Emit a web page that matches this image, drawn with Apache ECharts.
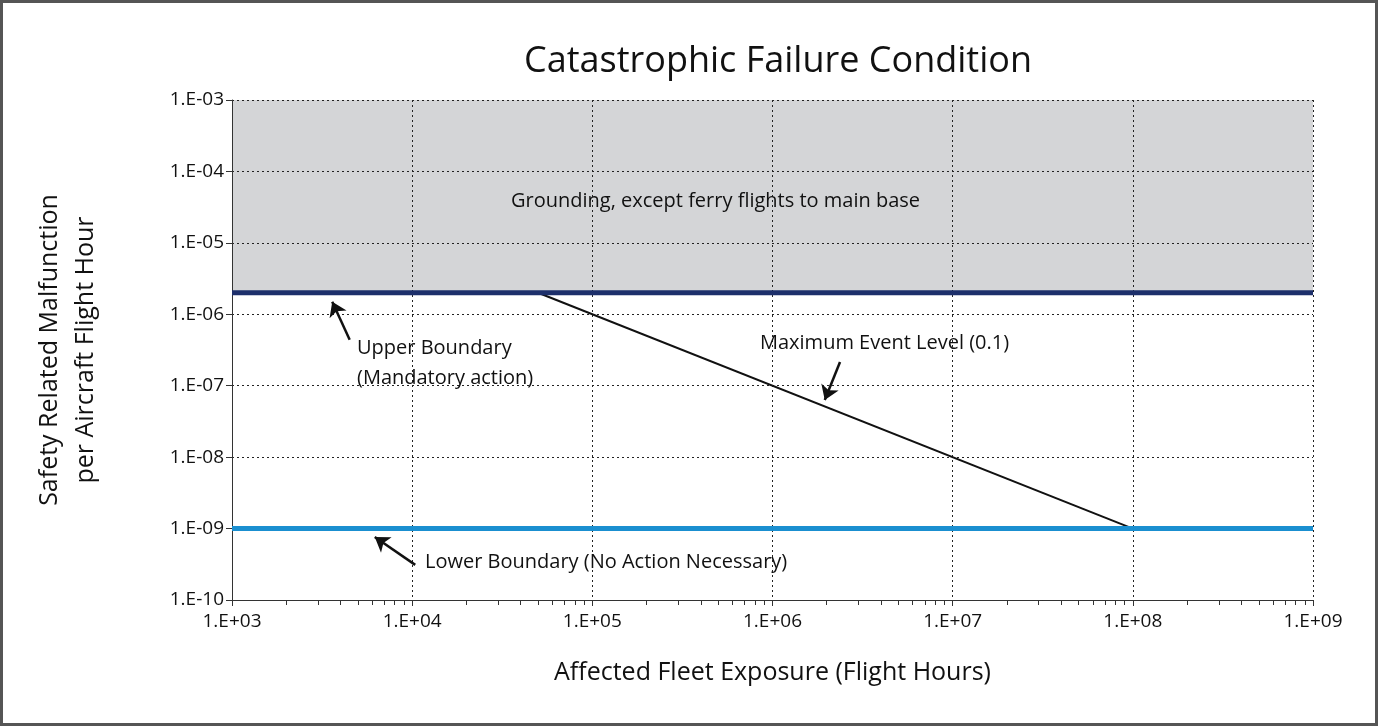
<!DOCTYPE html>
<html><head><meta charset="utf-8">
<script src="https://cdn.jsdelivr.net/npm/echarts@6/dist/echarts.min.js"></script>
<style>
html,body{margin:0;padding:0;background:#fff}
#main{width:1372px;height:720px;border:3px solid #555;}
</style></head>
<body><div id="main"></div>
<script>
var xRange = [1e3, 1e9];
var yRange = [1e-10, 1e-3];
var upperBoundary = [[1e3, 2e-6], [1e9, 2e-6]];
var lowerBoundary = [[1e3, 1e-9], [1e9, 1e-9]];
var maxEventLevel = [[5e4, 2e-6], [1e8, 1e-9]];
var groundingZone = [2e-6, 1e-3];
// arrows: [from, to]
var arrows = [
  [[4.5e3, 4.4e-7], [3.6e3, 1.5e-6]],
  [[2.37e6, 2.15e-7], [1.95e6, 6.3e-8]],
  [[1.04e4, 3.1e-10], [6.2e3, 7.6e-10]]
];

function expFmt(v) {
  var e = Math.round(Math.log10(v));
  var s = Math.abs(e) < 10 ? '0' + Math.abs(e) : '' + Math.abs(e);
  return '1.E' + (e < 0 ? '-' : '+') + s;
}

var font = 'Open Sans';
var myChart = echarts.init(document.getElementById('main'));
var option = {
  textStyle: {fontFamily: font},
  title: {text: 'Catastrophic Failure Condition', left: 770, top: 36, textAlign: 'center',
    textStyle: {fontSize: 36, fontWeight: 'normal', color: '#111', fontFamily: font}},
  grid: {left: 229, right: 62, top: 97, bottom: 123},
  xAxis: {
    type: 'log', min: xRange[0], max: xRange[1], logBase: 10, z: 3,
    name: 'Affected Fleet Exposure (Flight Hours)', nameLocation: 'middle', nameGap: 60,
    nameTextStyle: {fontSize: 25, color: '#111'},
    axisLine: {lineStyle: {color: '#333'}},
    axisTick: {show: true, length: 6, lineStyle: {color: '#333'}},
    minorTick: {show: true, splitNumber: 9, length: 5, lineStyle: {color: '#333'}},
    axisLabel: {formatter: expFmt, fontSize: 19, color: '#111', margin: 12},
    splitLine: {show: true, lineStyle: {color: '#222', type: [2, 3]}}
  },
  yAxis: {
    type: 'log', min: yRange[0], max: yRange[1], logBase: 10, z: 3,
    name: 'Safety Related Malfunction\nper Aircraft Flight Hour', nameLocation: 'middle', nameGap: 128,
    nameTextStyle: {fontSize: 25, color: '#111', lineHeight: 36},
    axisLine: {show: true, lineStyle: {color: '#333'}},
    axisTick: {show: true, length: 6, lineStyle: {color: '#333'}},
    axisLabel: {formatter: expFmt, fontSize: 19, color: '#111', margin: 8},
    splitLine: {show: true, lineStyle: {color: '#222', type: [2, 3]}}
  },
  series: [
    {type: 'line', data: [], symbol: 'none', z: 1,
      markArea: {silent: true, itemStyle: {color: '#d4d5d7'},
        data: [[{yAxis: groundingZone[0]}, {yAxis: groundingZone[1]}]]}},
    {type: 'line', data: upperBoundary, symbol: 'none', z: 5,
      lineStyle: {color: '#1d2f6b', width: 5}},
    {type: 'line', data: lowerBoundary, symbol: 'none', z: 5,
      lineStyle: {color: '#1a8fd0', width: 5}},
    {type: 'line', data: maxEventLevel, symbol: 'none', z: 4,
      lineStyle: {color: '#111', width: 2}},
    {type: 'lines', coordinateSystem: 'cartesian2d', z: 6,
      symbol: ['none', 'arrow'], symbolSize: 14,
      lineStyle: {color: '#111', width: 2.5, opacity: 1},
      data: arrows.map(function (a) { return {coords: a}; })}
  ],
  graphic: [
    {type: 'text', z: 100, left: 508, top: 188, style: {text: 'Grounding, except ferry flights to main base', fontSize: 20, fill: '#111', fontFamily: font}},
    {type: 'text', z: 100, left: 354, top: 330, style: {text: 'Upper Boundary\n(Mandatory action)', fontSize: 20, lineHeight: 30, fill: '#111', fontFamily: font}},
    {type: 'text', z: 100, left: 757, top: 330, style: {text: 'Maximum Event Level (0.1)', fontSize: 20, fill: '#111', fontFamily: font}},
    {type: 'text', z: 100, left: 422, top: 549, style: {text: 'Lower Boundary (No Action Necessary)', fontSize: 20, fill: '#111', fontFamily: font}}
  ]
};
myChart.setOption(option);
</script></body></html>
